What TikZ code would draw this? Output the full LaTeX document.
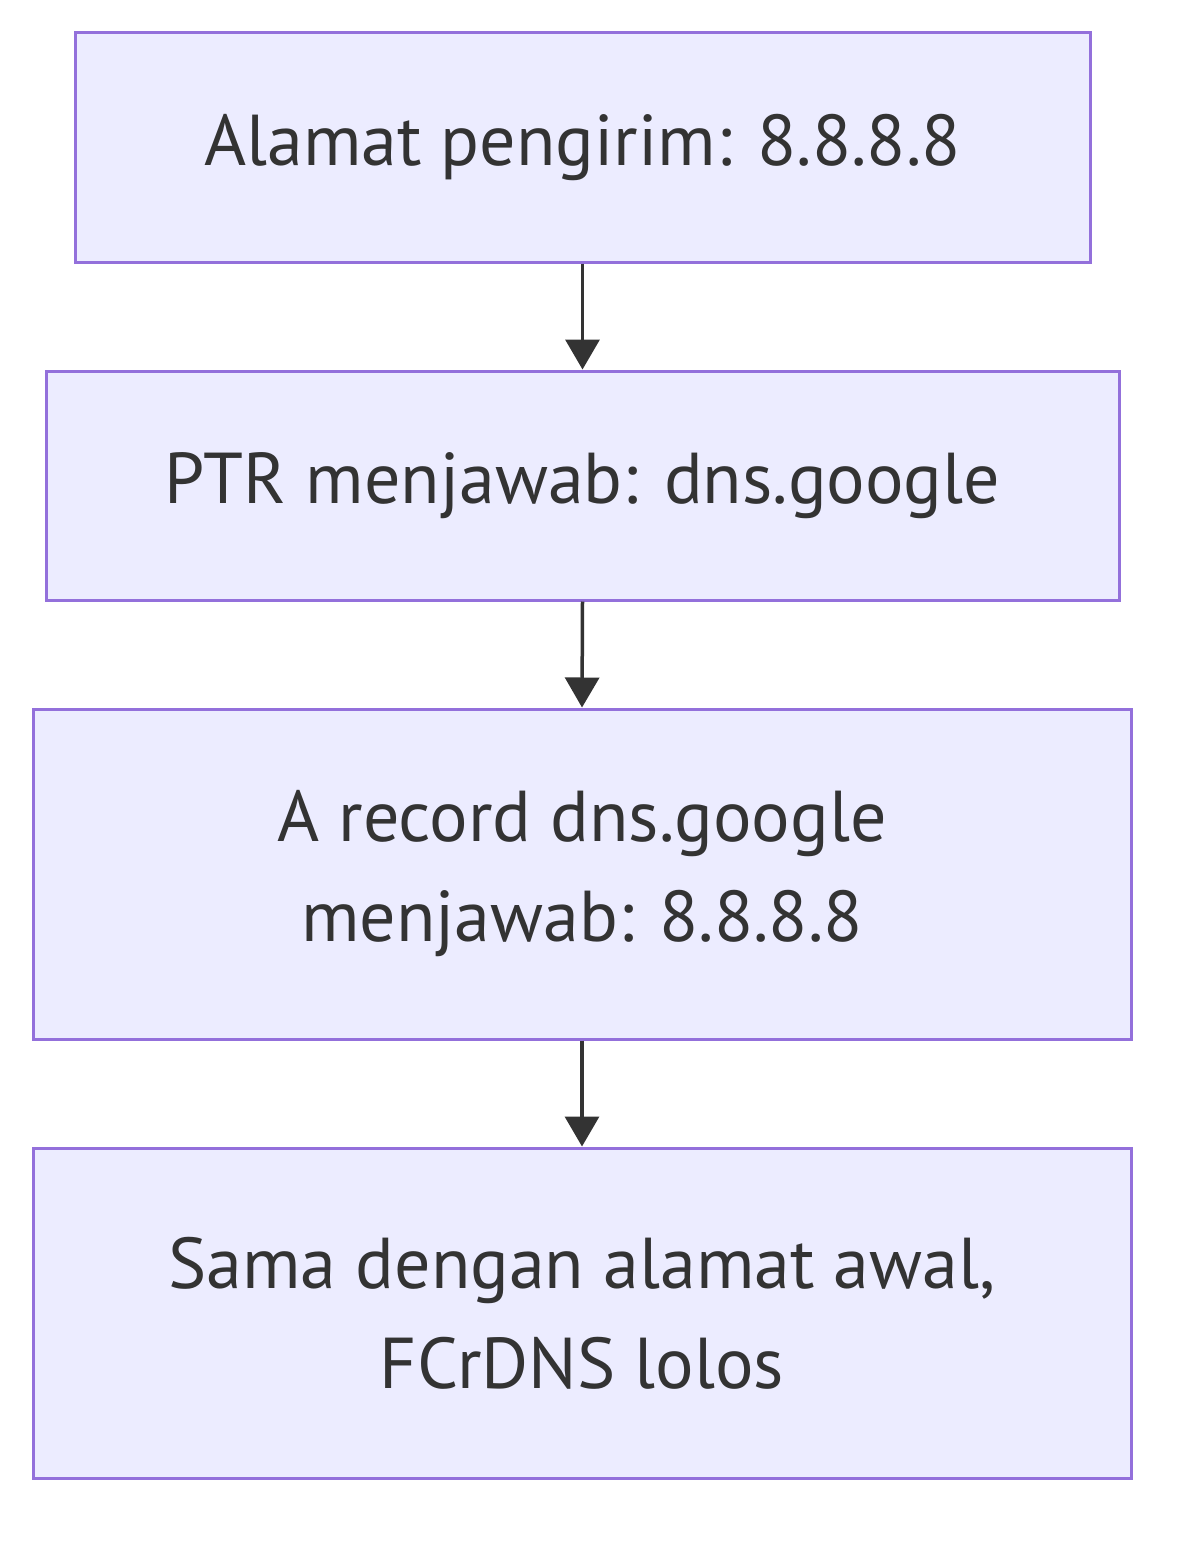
\documentclass[tikz,border=0pt]{standalone}
\usepackage{fontspec}
\setmainfont{PT Sans}
\usetikzlibrary{arrows.meta}
\definecolor{boxfill}{HTML}{ECECFF}
\definecolor{boxline}{HTML}{9370DB}
\definecolor{arr}{HTML}{333333}
\begin{document}
\begin{tikzpicture}[x=1pt,y=-1pt,
  box/.style={draw=boxline,fill=boxfill,line width=3pt,align=center,text=arr,
    font=\fontsize{72}{100}\selectfont,inner sep=0pt},
  con/.style={draw=arr,line width=3.5pt,-{Triangle[length=30pt,width=34pt]}}]
\useasboundingbox (0,0) rectangle (1200,1557);
\node[box,minimum width=1015pt,minimum height=229pt] (a) at (582.5,147.5) {Alamat pengirim: 8.8.8.8};
\node[box,minimum width=1073pt,minimum height=229pt] (b) at (582.5,485.5) {PTR menjawab: dns.google};
\node[box,minimum width=1098pt,minimum height=330pt] (c) at (582,874) {A record dns.google\\ menjawab: 8.8.8.8};
\node[box,minimum width=1098pt,minimum height=330pt] (d) at (582,1313) {Sama dengan alamat awal,\\ FCrDNS lolos};
\draw[con] (a.south) -- (b.north);
\draw[con] (b.south) -- (c.north);
\draw[con] (c.south) -- (d.north);
\end{tikzpicture}
\end{document}
